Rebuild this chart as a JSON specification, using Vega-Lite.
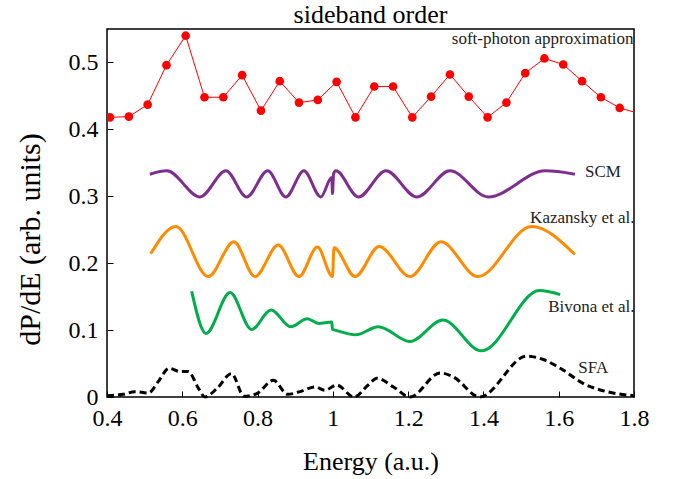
{
  "$schema": "https://vega.github.io/schema/vega-lite/v6.json",
  "autosize": {"type": "none"},
  "padding": {"left": 107, "top": 29, "right": 39, "bottom": 82},
  "width": 527,
  "height": 368,
  "background": "white",
  "config": {
    "font": "'Liberation Serif', 'Times New Roman', serif",
    "view": {"stroke": "black", "strokeWidth": 1.5},
    "axis": {"grid": false, "domain": false, "labelFont": "'Liberation Serif', 'Times New Roman', serif", "titleFont": "'Liberation Serif', 'Times New Roman', serif", "labelColor": "black", "titleColor": "black", "titleFontWeight": "normal", "tickColor": "black", "tickSize": -6, "tickWidth": 1, "labelFlush": false}
  },
  "title": {"text": "sideband order", "font": "'Liberation Serif', 'Times New Roman', serif", "fontSize": 26, "fontWeight": "normal", "color": "black", "offset": 1},
  "datasets": {
    "soft": [
      {"x": 0.408, "y": 0.418}, {"x": 0.458, "y": 0.419}, {"x": 0.508, "y": 0.437}, {"x": 0.558, "y": 0.496},
      {"x": 0.609, "y": 0.540}, {"x": 0.659, "y": 0.448}, {"x": 0.709, "y": 0.448}, {"x": 0.759, "y": 0.481},
      {"x": 0.809, "y": 0.428}, {"x": 0.859, "y": 0.472}, {"x": 0.910, "y": 0.440}, {"x": 0.960, "y": 0.444},
      {"x": 1.010, "y": 0.471}, {"x": 1.060, "y": 0.418}, {"x": 1.110, "y": 0.464}, {"x": 1.160, "y": 0.464},
      {"x": 1.211, "y": 0.418}, {"x": 1.261, "y": 0.449}, {"x": 1.311, "y": 0.482}, {"x": 1.361, "y": 0.449},
      {"x": 1.411, "y": 0.418}, {"x": 1.461, "y": 0.440}, {"x": 1.511, "y": 0.484}, {"x": 1.562, "y": 0.506},
      {"x": 1.612, "y": 0.497}, {"x": 1.662, "y": 0.472}, {"x": 1.712, "y": 0.448}, {"x": 1.762, "y": 0.432},
      {"x": 1.812, "y": 0.424}
    ],
    "bands": [
      {"x": 0.408}, {"x": 0.458}, {"x": 0.508}, {"x": 0.558}, {"x": 0.609}, {"x": 0.659}, {"x": 0.709},
      {"x": 0.759}, {"x": 0.809}, {"x": 0.859}, {"x": 0.910}, {"x": 0.960}, {"x": 1.010}, {"x": 1.060},
      {"x": 1.110}, {"x": 1.160}, {"x": 1.211}, {"x": 1.261}, {"x": 1.311}, {"x": 1.361}, {"x": 1.411},
      {"x": 1.461}, {"x": 1.511}, {"x": 1.562}, {"x": 1.612}, {"x": 1.662}, {"x": 1.712}, {"x": 1.762}
    ],
    "scm": [
      {"x": 0.514, "y": 0.333}, {"x": 0.559, "y": 0.338}, {"x": 0.647, "y": 0.299}, {"x": 0.716, "y": 0.338},
      {"x": 0.771, "y": 0.299}, {"x": 0.827, "y": 0.338}, {"x": 0.875, "y": 0.299}, {"x": 0.923, "y": 0.338},
      {"x": 0.968, "y": 0.299}, {"x": 0.997, "y": 0.328}, {"x": 0.999, "y": 0.304}, {"x": 1.002, "y": 0.334},
      {"x": 1.008, "y": 0.338}, {"x": 1.068, "y": 0.299}, {"x": 1.141, "y": 0.338}, {"x": 1.223, "y": 0.299},
      {"x": 1.311, "y": 0.338}, {"x": 1.413, "y": 0.299}, {"x": 1.564, "y": 0.338}, {"x": 1.643, "y": 0.333}
    ],
    "kaz": [
      {"x": 0.516, "y": 0.214}, {"x": 0.583, "y": 0.255}, {"x": 0.669, "y": 0.180}, {"x": 0.737, "y": 0.232},
      {"x": 0.793, "y": 0.180}, {"x": 0.855, "y": 0.227}, {"x": 0.910, "y": 0.180}, {"x": 0.959, "y": 0.224},
      {"x": 0.999, "y": 0.180}, {"x": 1.003, "y": 0.223}, {"x": 1.059, "y": 0.180}, {"x": 1.123, "y": 0.225},
      {"x": 1.205, "y": 0.180}, {"x": 1.287, "y": 0.232}, {"x": 1.385, "y": 0.180}, {"x": 1.528, "y": 0.255},
      {"x": 1.643, "y": 0.213}
    ],
    "biv": [
      {"x": 0.625, "y": 0.158}, {"x": 0.663, "y": 0.095}, {"x": 0.727, "y": 0.156}, {"x": 0.784, "y": 0.101},
      {"x": 0.836, "y": 0.130}, {"x": 0.888, "y": 0.105}, {"x": 0.932, "y": 0.117}, {"x": 0.962, "y": 0.110},
      {"x": 0.997, "y": 0.112}, {"x": 0.999, "y": 0.101}, {"x": 1.006, "y": 0.100}, {"x": 1.061, "y": 0.093},
      {"x": 1.121, "y": 0.105}, {"x": 1.205, "y": 0.083}, {"x": 1.292, "y": 0.115}, {"x": 1.395, "y": 0.069},
      {"x": 1.549, "y": 0.159}, {"x": 1.604, "y": 0.153}
    ],
    "sfa": [
      {"x": 0.400, "y": 0.002}, {"x": 0.443, "y": 0.004}, {"x": 0.474, "y": 0.008}, {"x": 0.510, "y": 0.006},
      {"x": 0.536, "y": 0.023}, {"x": 0.565, "y": 0.043}, {"x": 0.594, "y": 0.038}, {"x": 0.616, "y": 0.038},
      {"x": 0.643, "y": 0.013}, {"x": 0.660, "y": 0.000}, {"x": 0.691, "y": 0.012}, {"x": 0.731, "y": 0.035},
      {"x": 0.764, "y": 0.001}, {"x": 0.798, "y": 0.005}, {"x": 0.842, "y": 0.025}, {"x": 0.880, "y": 0.004},
      {"x": 0.913, "y": 0.008}, {"x": 0.953, "y": 0.015}, {"x": 0.979, "y": 0.010}, {"x": 1.010, "y": 0.018},
      {"x": 1.056, "y": 0.000}, {"x": 1.094, "y": 0.018}, {"x": 1.117, "y": 0.028}, {"x": 1.161, "y": 0.015},
      {"x": 1.205, "y": 0.000}, {"x": 1.285, "y": 0.036}, {"x": 1.320, "y": 0.030}, {"x": 1.390, "y": 0.000},
      {"x": 1.515, "y": 0.061}, {"x": 1.559, "y": 0.056}, {"x": 1.604, "y": 0.043}, {"x": 1.666, "y": 0.020},
      {"x": 1.728, "y": 0.008}, {"x": 1.799, "y": 0.002}
    ],
    "labels": [
      {"x": 1.316, "y": 0.535, "t": "soft-photon approximation"},
      {"x": 1.670, "y": 0.336, "t": "SCM"},
      {"x": 1.524, "y": 0.267, "t": "Kazansky et al."},
      {"x": 1.572, "y": 0.135, "t": "Bivona et al."},
      {"x": 1.652, "y": 0.044, "t": "SFA"}
    ]
  },
  "encoding": {
    "x": {"field": "x", "type": "quantitative", "scale": {"domain": [0.4, 1.8], "nice": false, "zero": false},
      "axis": {"values": [0.4, 0.6, 0.8, 1.0, 1.2, 1.4, 1.6, 1.8], "format": "~g", "labelFontSize": 24, "labelPadding": 15, "title": "Energy (a.u.)", "titleFontSize": 26, "titleY": 64, "titleBaseline": "middle"}},
    "y": {"field": "y", "type": "quantitative", "scale": {"domain": [0, 0.55], "nice": false},
      "axis": {"values": [0, 0.1, 0.2, 0.3, 0.4, 0.5], "format": "~g", "labelFontSize": 24, "labelPadding": 15, "title": "dP/dE (arb. units)", "titleFontSize": 30, "titleX": -77, "titleY": 210, "titleAngle": 270, "titleAlign": "center", "titleBaseline": "middle"}}
  },
  "layer": [
    {"data": {"name": "bands"}, "mark": {"type": "rule", "color": "black", "strokeWidth": 1, "strokeDash": [4, 4.3]}, "encoding": {"y": {"datum": 0}, "y2": {"datum": 0.55}}},
    {"data": {"name": "soft"}, "mark": {"type": "line", "color": "#ff0000", "strokeWidth": 1, "clip": true}},
    {"data": {"name": "soft"}, "mark": {"type": "point", "filled": true, "color": "#ff0000", "size": 75, "opacity": 1, "clip": true}},
    {"data": {"name": "scm"}, "mark": {"type": "line", "color": "#7e2f8e", "strokeWidth": 3, "interpolate": "monotone"}},
    {"data": {"name": "kaz"}, "mark": {"type": "line", "color": "#ff8c00", "strokeWidth": 3, "interpolate": "monotone"}},
    {"data": {"name": "biv"}, "mark": {"type": "line", "color": "#00ad4a", "strokeWidth": 3, "interpolate": "monotone"}},
    {"data": {"name": "sfa"}, "mark": {"type": "line", "color": "black", "strokeWidth": 3, "strokeDash": [7, 4], "interpolate": "monotone"}},
    {"data": {"name": "labels"}, "mark": {"type": "text", "align": "left", "baseline": "middle", "fontSize": 17, "font": "'Liberation Serif', 'Times New Roman', serif", "color": "#222222"}, "encoding": {"text": {"field": "t"}}}
  ]
}
